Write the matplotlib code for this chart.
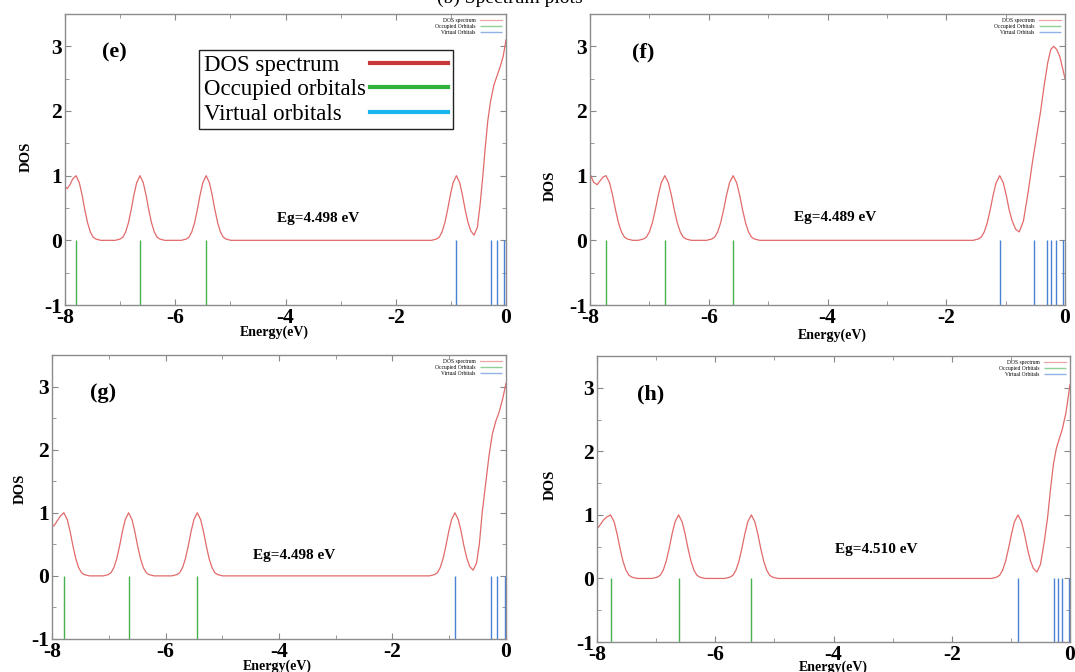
import matplotlib
matplotlib.use("Agg")
import matplotlib.pyplot as plt
from matplotlib.lines import Line2D
from matplotlib.ticker import MultipleLocator

plt.rcParams["axes.unicode_minus"] = False

W, H = 1075, 672
SERIF = ["Liberation Serif", "DejaVu Serif"]

# ---- panel (e) ----
e_occ = [-7.80, -6.64, -5.44]
e_virt = [-0.90, -0.28, -0.16, -0.03]
e_x = [-8.00, -7.96, -7.91, -7.86, -7.80, -7.74, -7.69, -7.64, -7.59, -7.54, -7.49, -7.44, -7.35,
       -7.09, -7.00, -6.95, -6.90, -6.85, -6.80, -6.75, -6.70, -6.64, -6.58, -6.53, -6.48, -6.43, -6.38, -6.33, -6.28, -6.19,
       -5.89, -5.80, -5.75, -5.70, -5.65, -5.60, -5.55, -5.50, -5.44, -5.38, -5.33, -5.28, -5.23, -5.18, -5.13, -5.08, -4.99,
       -1.35, -1.26, -1.21, -1.16, -1.11, -1.06, -1.01, -0.96, -0.90, -0.84, -0.79, -0.74, -0.69, -0.64, -0.58,
       -0.52, -0.47, -0.42, -0.38, -0.33, -0.28, -0.22, -0.16, -0.10, -0.05, 0.00]
e_y = [0.83, 0.80, 0.86, 0.95, 1.00, 0.89, 0.70, 0.47, 0.27, 0.13, 0.05, 0.02, 0.00,
       0.00, 0.02, 0.05, 0.13, 0.27, 0.47, 0.70, 0.89, 1.00, 0.89, 0.70, 0.47, 0.27, 0.13, 0.05, 0.02, 0.00,
       0.00, 0.02, 0.05, 0.13, 0.27, 0.47, 0.70, 0.89, 1.00, 0.89, 0.70, 0.47, 0.27, 0.13, 0.05, 0.02, 0.00,
       0.00, 0.02, 0.05, 0.13, 0.27, 0.47, 0.70, 0.89, 1.00, 0.89, 0.70, 0.47, 0.28, 0.15, 0.08,
       0.20, 0.55, 1.00, 1.40, 1.85, 2.15, 2.40, 2.55, 2.70, 2.85, 3.10]

# ---- panel (f) ----
f_occ = [-7.73, -6.74, -5.59]
f_virt = [-1.10, -0.52, -0.31, -0.23, -0.15, -0.04]
f_x = [-8.00, -7.94, -7.88, -7.83, -7.78, -7.73, -7.67, -7.62, -7.57, -7.52, -7.47, -7.42, -7.37, -7.28,
       -7.19, -7.10, -7.05, -7.00, -6.95, -6.90, -6.85, -6.80, -6.74, -6.68, -6.63, -6.58, -6.53, -6.48, -6.43, -6.38, -6.29,
       -6.04, -5.95, -5.90, -5.85, -5.80, -5.75, -5.70, -5.65, -5.59, -5.53, -5.48, -5.43, -5.38, -5.33, -5.28, -5.23, -5.14,
       -1.55, -1.46, -1.41, -1.36, -1.31, -1.26, -1.21, -1.16, -1.10, -1.04, -0.99, -0.94, -0.89, -0.83, -0.77,
       -0.70, -0.62, -0.55, -0.48, -0.41, -0.35, -0.29, -0.24, -0.19, -0.14, -0.09, -0.05, 0.00]
f_y = [1.03, 0.90, 0.86, 0.92, 0.98, 1.00, 0.89, 0.70, 0.47, 0.27, 0.13, 0.05, 0.02, 0.00,
       0.00, 0.02, 0.05, 0.13, 0.27, 0.47, 0.70, 0.89, 1.00, 0.89, 0.70, 0.47, 0.27, 0.13, 0.05, 0.02, 0.00,
       0.00, 0.02, 0.05, 0.13, 0.27, 0.47, 0.70, 0.89, 1.00, 0.89, 0.70, 0.47, 0.27, 0.13, 0.05, 0.02, 0.00,
       0.00, 0.02, 0.05, 0.13, 0.27, 0.47, 0.70, 0.89, 1.00, 0.89, 0.70, 0.47, 0.30, 0.17, 0.13,
       0.30, 0.75, 1.20, 1.60, 2.00, 2.40, 2.75, 2.95, 3.00, 2.95, 2.85, 2.70, 2.50]

# ---- panel (g) ----
g_occ = [-7.79, -6.65, -5.44]
g_virt = [-0.90, -0.27, -0.16, -0.02]
g_x = [-8.00, -7.96, -7.91, -7.85, -7.79, -7.73, -7.68, -7.63, -7.58, -7.53, -7.48, -7.43, -7.34,
       -7.10, -7.01, -6.96, -6.91, -6.86, -6.81, -6.76, -6.71, -6.65, -6.59, -6.54, -6.49, -6.44, -6.39, -6.34, -6.29, -6.20,
       -5.89, -5.80, -5.75, -5.70, -5.65, -5.60, -5.55, -5.50, -5.44, -5.38, -5.33, -5.28, -5.23, -5.18, -5.13, -5.08, -4.99,
       -1.35, -1.26, -1.21, -1.16, -1.11, -1.06, -1.01, -0.96, -0.90, -0.84, -0.79, -0.74, -0.69, -0.64, -0.58,
       -0.52, -0.47, -0.42, -0.36, -0.30, -0.24, -0.18, -0.12, -0.06, 0.00]
g_y = [0.78, 0.80, 0.87, 0.95, 1.00, 0.89, 0.70, 0.47, 0.27, 0.13, 0.05, 0.02, 0.00,
       0.00, 0.02, 0.05, 0.13, 0.27, 0.47, 0.70, 0.89, 1.00, 0.89, 0.70, 0.47, 0.27, 0.13, 0.05, 0.02, 0.00,
       0.00, 0.02, 0.05, 0.13, 0.27, 0.47, 0.70, 0.89, 1.00, 0.89, 0.70, 0.47, 0.27, 0.13, 0.05, 0.02, 0.00,
       0.00, 0.02, 0.05, 0.13, 0.27, 0.47, 0.70, 0.89, 1.00, 0.89, 0.70, 0.47, 0.28, 0.15, 0.09,
       0.20, 0.50, 1.00, 1.45, 1.90, 2.25, 2.45, 2.60, 2.80, 3.05]

# ---- panel (h) ----
h_occ = [-7.77, -6.62, -5.39]
h_virt = [-0.88, -0.27, -0.20, -0.13, -0.01]
h_x = [-8.00, -7.95, -7.89, -7.83, -7.77, -7.71, -7.66, -7.61, -7.56, -7.51, -7.46, -7.41, -7.32,
       -7.07, -6.98, -6.93, -6.88, -6.83, -6.78, -6.73, -6.68, -6.62, -6.56, -6.51, -6.46, -6.41, -6.36, -6.31, -6.26, -6.17,
       -5.84, -5.75, -5.70, -5.65, -5.60, -5.55, -5.50, -5.45, -5.39, -5.33, -5.28, -5.23, -5.18, -5.13, -5.08, -5.03, -4.94,
       -1.33, -1.24, -1.19, -1.14, -1.09, -1.04, -0.99, -0.94, -0.88, -0.82, -0.77, -0.72, -0.67, -0.62, -0.56,
       -0.50, -0.44, -0.38, -0.33, -0.28, -0.23, -0.18, -0.13, -0.07, 0.00]
h_y = [0.78, 0.84, 0.92, 0.97, 1.00, 0.89, 0.70, 0.47, 0.27, 0.13, 0.05, 0.02, 0.00,
       0.00, 0.02, 0.05, 0.13, 0.27, 0.47, 0.70, 0.89, 1.00, 0.89, 0.70, 0.47, 0.27, 0.13, 0.05, 0.02, 0.00,
       0.00, 0.02, 0.05, 0.13, 0.27, 0.47, 0.70, 0.89, 1.00, 0.89, 0.70, 0.47, 0.27, 0.13, 0.05, 0.02, 0.00,
       0.00, 0.02, 0.05, 0.13, 0.27, 0.47, 0.70, 0.89, 1.00, 0.89, 0.70, 0.47, 0.28, 0.16, 0.10,
       0.22, 0.55, 0.95, 1.40, 1.80, 2.05, 2.20, 2.35, 2.60, 3.05]

panel_labels = ["(e)", "(f)", "(g)", "(h)"]
gap_labels = ["Eg=4.498 eV", "Eg=4.489 eV", "Eg=4.498 eV", "Eg=4.510 eV"]
legend_labels = ["DOS spectrum", "Occupied Orbitals", "Virtual Orbitals"]
big_legend_labels = ["DOS spectrum", "Occupied orbitals", "Virtual orbitals"]

# layout in pixels: left, right, top, bottom
boxes = [(65, 506, 14, 305), (590, 1065, 14, 305), (52, 506, 355, 639), (597, 1070, 356, 642)]
gap_pos = [(-3.40, 0.33), (-3.88, 0.35), (-3.73, 0.32), (-3.28, 0.46)]
ylab_pos = [(-0.088, 0.51), (-0.083, 0.41), (-0.069, 0.53), (-0.098, 0.55)]
xlab_pos = [(0.474, -0.095), (0.51, -0.105), (0.497, -0.097), (0.50, -0.087)]

RED, GREEN, BLUE = "#e26a6a", "#45b24f", "#4a80d6"

panels = [(e_x, e_y, e_occ, e_virt), (f_x, f_y, f_occ, f_virt),
          (g_x, g_y, g_occ, g_virt), (h_x, h_y, h_occ, h_virt)]

fig = plt.figure(figsize=(W / 100, H / 100), dpi=100)
big = None

for i, (cx, cy, occ, virt) in enumerate(panels):
    l, r, t, b = boxes[i]
    ax = fig.add_axes([l / W, 1 - b / H, (r - l) / W, (b - t) / H])
    ax.plot(cx, cy, color=RED, lw=0.9, label=legend_labels[0])
    ax.vlines(occ, -1, 0, color=GREEN, lw=1.0, label=legend_labels[1])
    ax.vlines(virt, -1, 0, color=BLUE, lw=1.0, label=legend_labels[2])
    ax.set_xlim(-8, 0)
    ax.set_ylim(-1, 3.5)
    ax.xaxis.set_major_locator(MultipleLocator(2))
    ax.xaxis.set_minor_locator(MultipleLocator(1))
    ax.yaxis.set_major_locator(MultipleLocator(1))
    ax.yaxis.set_minor_locator(MultipleLocator(0.5))
    ax.tick_params(which="both", direction="in", top=True, right=True, color="#888888")
    ax.tick_params(which="major", length=4, pad=2)
    ax.tick_params(which="minor", length=3)
    for lab in ax.get_xticklabels() + ax.get_yticklabels():
        lab.set_fontfamily(SERIF)
        lab.set_fontweight("bold")
        lab.set_fontsize(15.5)
    for sp in ax.spines.values():
        sp.set_color("#8c8c8c")
        sp.set_linewidth(1.0)

    ax.set_ylabel("DOS", family=SERIF, fontweight="bold", fontsize=10.5, va="center")
    ax.yaxis.set_label_coords(*ylab_pos[i])
    ax.set_xlabel("Energy(eV)", family=SERIF, fontweight="bold", fontsize=10, va="center")
    ax.xaxis.set_label_coords(*xlab_pos[i])

    ax.text(-7.1, 2.9, panel_labels[i], family=SERIF, fontweight="bold", fontsize=16,
            ha="center", va="center")
    ax.text(gap_pos[i][0], gap_pos[i][1], gap_labels[i], family=SERIF, fontweight="bold",
            fontsize=11, ha="center", va="center")

    small = ax.legend(loc="upper right", frameon=False, markerfirst=False,
                      handlelength=4, labelspacing=0.15, borderaxespad=0.3,
                      prop={"family": SERIF, "size": 4})
    for lh in small.get_lines():
        lh.set_alpha(0.6)

    if i == 0:
        ax.add_artist(small)
        handles = [Line2D([], [], color="#c8383a", lw=3),
                   Line2D([], [], color="#2fb13a", lw=3),
                   Line2D([], [], color="#1cb4ec", lw=3)]
        big = ax.legend(handles, big_legend_labels, loc="upper left",
                        bbox_to_anchor=(199 / W, 1 - 50 / H), bbox_transform=fig.transFigure,
                        markerfirst=False, handlelength=3.4, handletextpad=0.2,
                        labelspacing=0.15, borderpad=0.2, borderaxespad=0,
                        fancybox=False, framealpha=1, edgecolor="#222222",
                        prop={"family": SERIF, "size": 16.5})
        big.get_frame().set_linewidth(1.0)

# title line clipped at the top of the picture
fig.text(437 / W, 1 - 3 / H, "(b) Spectrum plots", family=SERIF, fontsize=14,
         ha="left", va="baseline")

# left-justify the big key's texts while keeping its line samples aligned on the right
fig.canvas.draw()
rend = fig.canvas.get_renderer()
widths = [tx.get_window_extent(rend).width for tx in big.get_texts()]
items = big._legend_handle_box.get_children()[0].get_children()
base = 0.2 * 16.5
for item, w in zip(items, widths):
    item.sep = base + (max(widths) - w) * 72 / fig.dpi

fig.savefig("out.png", dpi=100, facecolor="white")
